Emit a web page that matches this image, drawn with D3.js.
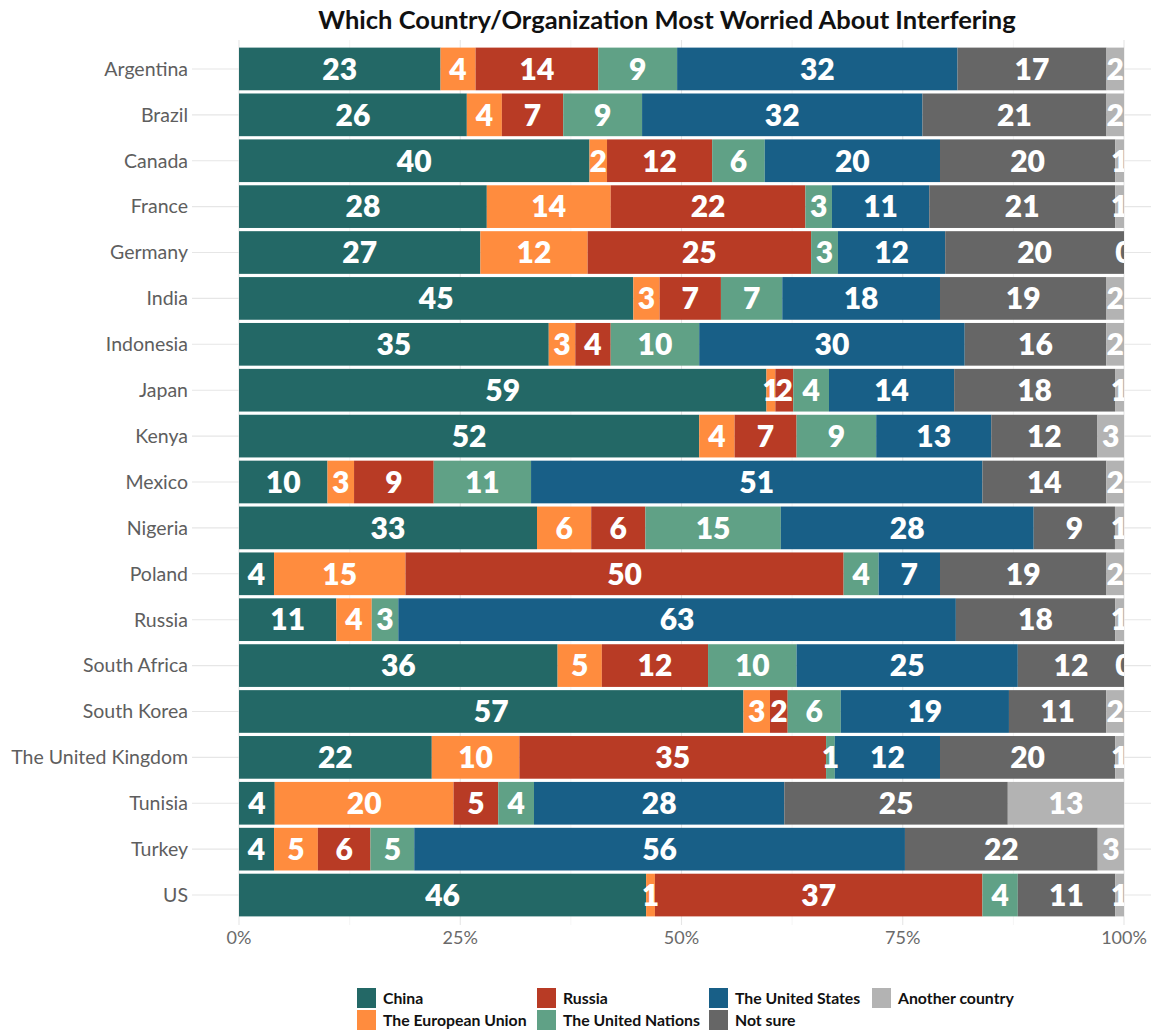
<!DOCTYPE html>
<html>
<head>
<meta charset="utf-8">
<script src="https://cdn.jsdelivr.net/npm/d3@7"></script>
<style>
  html, body { margin: 0; padding: 0; background: #fff; }
  svg { display: block; }
</style>
</head>
<body>
<svg id="chart" width="1151" height="1030"></svg>
<script>
// Survey responses (percent), one array per answer, in the row order of `countries`.
// null = answer not offered for that country.
const countries = ["Argentina","Brazil","Canada","France","Germany","India","Indonesia","Japan","Kenya","Mexico","Nigeria","Poland","Russia","South Africa","South Korea","The United Kingdom","Tunisia","Turkey","US"];
const china        = [23,26,40,28,27,45,35,59,52,10,33, 4,11,36,57,22, 4, 4,46];
const europeanUnion= [ 4, 4, 2,14,12, 3, 3, 1, 4, 3, 6,15, 4, 5, 3,10,20, 5, 1];
const russia       = [14, 7,12,22,25, 7, 4, 2, 7, 9, 6,50,null,12, 2,35, 5, 6,37];
const unitedNations= [ 9, 9, 6, 3, 3, 7,10, 4, 9,11,15, 4, 3,10, 6, 1, 4, 5, 4];
const unitedStates = [32,32,20,11,12,18,30,14,13,51,28, 7,63,25,19,12,28,56,null];
const notSure      = [17,21,20,21,20,19,16,18,12,14, 9,19,18,12,11,20,25,22,11];
const another      = [ 2, 2, 1, 1, 0, 2, 2, 1, 3, 2, 1, 2, 1, 0, 2, 1,13, 3, 1];

const seriesNames  = ["China","The European Union","Russia","The United Nations","The United States","Not sure","Another country"];
const seriesValues = [china, europeanUnion, russia, unitedNations, unitedStates, notSure, another];
const seriesColors = ["#236866","#ff8c3e","#b83b25","#60a186","#185f87","#666666","#b3b3b3"];
const xTicks       = [0, 0.25, 0.5, 0.75, 1];
const xMinorTicks  = [0.125, 0.375, 0.625, 0.875];
const titleText    = "Which Country/Organization Most Worried About Interfering";

const rows = countries.map((c, i) => {
  const r = { country: c };
  seriesNames.forEach((s, k) => { r[s] = seriesValues[k][i]; });
  return r;
});

const stack = d3.stack()
  .keys(seriesNames)
  .value((d, key) => d[key] == null ? 0 : d[key])
  .offset(d3.stackOffsetExpand);
const layers = stack(rows);

const svg = d3.select("#chart");
const font = "Lato, 'Open Sans', sans-serif";

const x = d3.scaleLinear().domain([0, 1]).range([239, 1124]);
const y = d3.scaleBand().domain(countries).range([46, 918]).paddingInner(0.07).paddingOuter(0.035);

const panel = { left: 192, right: 1151, top: 40, bottom: 925 };

// grid
const grid = svg.append("g");
grid.selectAll("line.minor").data(xMinorTicks).join("line")
  .attr("x1", d => x(d)).attr("x2", d => x(d))
  .attr("y1", panel.top).attr("y2", panel.bottom)
  .attr("stroke", "#f2f2f2").attr("stroke-width", 0.8);
grid.selectAll("line.major").data(xTicks).join("line")
  .attr("x1", d => x(d)).attr("x2", d => x(d))
  .attr("y1", panel.top).attr("y2", panel.bottom)
  .attr("stroke", "#e6e6e6").attr("stroke-width", 1.1);
grid.selectAll("line.h").data(countries).join("line")
  .attr("x1", panel.left).attr("x2", panel.right)
  .attr("y1", d => y(d) + y.bandwidth() / 2).attr("y2", d => y(d) + y.bandwidth() / 2)
  .attr("stroke", "#e6e6e6").attr("stroke-width", 1.1);

// bars
const bars = svg.append("g");
layers.forEach((layer, k) => {
  bars.append("g").attr("fill", seriesColors[k])
    .selectAll("rect").data(layer).join("rect")
    .attr("x", d => x(d[0]))
    .attr("width", d => Math.max(0, x(d[1]) - x(d[0])))
    .attr("y", d => y(d.data.country))
    .attr("height", y.bandwidth());
});

// value labels, clipped to the plotted range
svg.append("defs").append("clipPath").attr("id", "plotclip")
  .append("rect").attr("x", x(0)).attr("y", panel.top)
  .attr("width", x(1) - x(0)).attr("height", panel.bottom - panel.top);

const labels = svg.append("g").attr("clip-path", "url(#plotclip)");
layers.forEach((layer, k) => {
  labels.append("g").selectAll("text")
    .data(layer.filter(d => d.data[seriesNames[k]] != null))
    .join("text")
    .attr("x", d => x((d[0] + d[1]) / 2))
    .attr("y", d => y(d.data.country) + y.bandwidth() / 2)
    .attr("dy", "0.36em")
    .attr("text-anchor", "middle")
    .attr("fill", "#ffffff")
    .attr("font-family", font)
    .attr("font-weight", 800)
    .attr("font-size", 30)
    .text(d => d.data[seriesNames[k]]);
});

// y axis labels
svg.append("g").selectAll("text").data(countries).join("text")
  .attr("x", 188)
  .attr("y", d => y(d) + y.bandwidth() / 2)
  .attr("dy", "0.35em")
  .attr("text-anchor", "end")
  .attr("fill", "#5e5e5e")
  .attr("font-family", font)
  .attr("font-weight", 400)
  .attr("font-size", 19.5)
  .text(d => d);

// x axis labels
svg.append("g").selectAll("text").data(xTicks).join("text")
  .attr("x", d => x(d))
  .attr("y", 938)
  .attr("dy", "0.35em")
  .attr("text-anchor", "middle")
  .attr("fill", "#6a6a6a")
  .attr("font-family", font)
  .attr("font-weight", 400)
  .attr("font-size", 18)
  .text(d3.format(".0%"));

// title
svg.append("text")
  .attr("x", 667).attr("y", 20).attr("dy", "0.35em")
  .attr("text-anchor", "middle")
  .attr("fill", "#111")
  .attr("font-family", font)
  .attr("font-weight", 700)
  .attr("font-size", 25.5)
  .text(titleText);

// legend, filled column by column, two rows
const legendCols = [357, 537, 709, 872];
const legendRows = [998, 1020];
const legend = svg.append("g");
seriesNames.forEach((name, k) => {
  const cx = legendCols[Math.floor(k / 2)];
  const cy = legendRows[k % 2];
  legend.append("rect")
    .attr("x", cx).attr("y", cy - 10).attr("width", 19).attr("height", 20)
    .attr("fill", seriesColors[k]);
  legend.append("text")
    .attr("x", cx + 26).attr("y", cy).attr("dy", "0.35em")
    .attr("fill", "#111")
    .attr("font-family", font)
    .attr("font-weight", 700)
    .attr("font-size", 15.8)
    .text(name);
});
</script>
</body>
</html>
